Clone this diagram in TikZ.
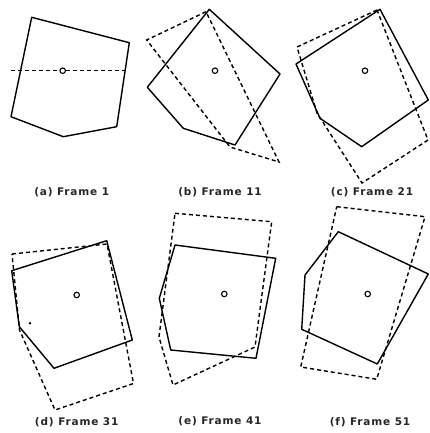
\documentclass[tikz,border=0pt]{standalone}
\usepackage{fontspec}
\newfontfamily\framefont[LetterSpace=8]{DejaVu Sans}
\begin{document}
\begin{tikzpicture}[
    x=1pt, y=-1pt,
    outline/.style={draw, line width=1.4pt, line join=round},
    ghost/.style={draw, line width=1.4pt, dash pattern=on 4pt off 3pt},
    hub/.style={draw, circle, line width=1.1pt, inner sep=0pt, minimum size=5.5pt},
    caption/.style={font=\framefont\bfseries\fontsize{10.5}{12}\selectfont, text=black!85}
  ]
    \useasboundingbox (0,0) rectangle (430,433);
    % (a) 最初のフレーム
    \draw[outline] (31.7,17.3) -- (129.3,42.7) -- (116.7,126.7) -- (63.3,136.7) -- (11,116.7) -- cycle;
    \node[hub] (ca) at (62.7,70.7) {};
    \coordinate (axl) at (11,70.7);
    \coordinate (axr) at (128,70.7);
    \draw[ghost] (axl) -- (ca) -- (axr);
    \node[caption] (la) at (71.7,192.7) {(a) Frame 1};
    % (b) フレーム11
    \draw[ghost] (206,11.7) -- (146.7,40) -- (230,147) -- (279,162) -- cycle;
    \draw[outline] (209.3,9.3) -- (280,74) -- (235,145) -- (183.3,128.3) -- (147.3,87.3) -- cycle;
    \node[hub] (cb) at (215,70.7) {};
    \node[caption] (lb) at (220,192.7) {(b) Frame 11};
    % (c) フレーム21
    \draw[ghost] (377,10) -- (297,47) -- (317,113) -- (362,183) -- (428,140) -- cycle;
    \draw[outline] (380,9.3) -- (428.3,100) -- (361.7,146.7) -- (320,118.3) -- (296,64) -- cycle;
    \node[hub] (cc) at (365,70.7) {};
    \node[caption] (lc) at (372,192.7) {(c) Frame 21};
    % (d) フレーム31
    \draw[ghost] (12,254) -- (107,244) -- (133.5,383.5) -- (55,410) -- (19.5,330) -- cycle;
    \draw[outline] (106.7,240.7) -- (132.3,340) -- (54,368.3) -- (19.3,326.7) -- (11.7,270.7) -- cycle;
    \node[hub] (cd) at (76.7,295) {};
    \fill (30,323.3) circle (1.4pt);
    \node[caption] (ld) at (76.7,421.7) {(d) Frame 31};
    % (e) フレーム41
    \draw[ghost] (175,213.3) -- (271.7,221.7) -- (255,347) -- (173,385) -- (159,337) -- cycle;
    \draw[outline] (175,245) -- (275.7,258.3) -- (256,358.3) -- (170.7,350) -- (159.3,298.3) -- cycle;
    \node[hub] (ce) at (224.3,294) {};
    \node[caption] (le) at (220,421.7) {(e) Frame 41};
    % (f) フレーム51
    \draw[ghost] (336.7,206.7) -- (425,216.7) -- (376.7,379.3) -- (300.7,367) -- cycle;
    \draw[outline] (338.3,231.7) -- (428.3,274) -- (377.3,364) -- (301.7,329.3) -- (305,275) -- cycle;
    \node[hub] (cf) at (367.7,294) {};
    \node[caption] (lf) at (370,421.7) {(f) Frame 51};
  \end{tikzpicture}
\end{document}
